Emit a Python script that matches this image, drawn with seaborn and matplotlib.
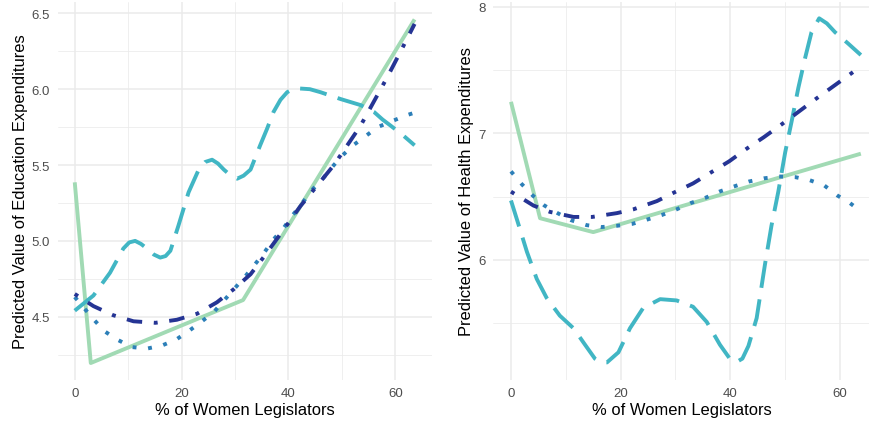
import numpy as np
import pandas as pd
import matplotlib
matplotlib.use("Agg")
import matplotlib.pyplot as plt
import seaborn as sns

# ---------------- data ----------------
# Education panel
edu_solid_x = [0, 3.0, 31.5, 63.6]
edu_solid_y = [5.386, 4.195, 4.61, 6.46]

edu_dash_x = [0, 3.5, 6.6, 9.1, 10.2, 11.3, 12.4, 13.5, 14.8, 16.0, 17.0, 17.9, 19.4, 21.3,
              23.2, 24.4, 25.7, 26.8, 27.9, 29.2, 30.4, 31.6, 32.9, 34.7, 36.0, 37.2,
              38.5, 39.75, 40.8, 41.9, 44.0, 46.0, 49.75, 53.5, 56.0, 57.6, 59.1, 61.3, 63.6]
edu_dash_y = [4.54, 4.64, 4.79, 4.95, 4.99, 5.00, 4.98, 4.95, 4.91, 4.89, 4.90, 4.935, 5.10, 5.32,
              5.47, 5.52, 5.535, 5.51, 5.47, 5.43, 5.41, 5.43, 5.47, 5.63, 5.74, 5.85,
              5.93, 5.98, 6.00, 6.005, 6.0, 5.98, 5.935, 5.895, 5.85, 5.80, 5.76, 5.70, 5.63]

edu_dot_x = [0, 1.75, 3.6, 5.55, 7.9, 10.7, 13.5, 16.3, 19.0, 21.5, 23.8, 26.0, 28.0, 30.0,
             32.0, 33.6, 35.4, 37.2, 39.0, 40.8, 42.6, 44.25, 46.2, 48.0, 50.0, 52.1, 54.4,
             56.7, 59.4, 62.25, 63.6]
edu_dot_y = [4.63, 4.557, 4.48, 4.405, 4.35, 4.30, 4.29, 4.31, 4.35, 4.41, 4.47, 4.53, 4.61, 4.69,
             4.77, 4.84, 4.92, 5.01, 5.08, 5.17, 5.25, 5.33, 5.40, 5.48, 5.56, 5.63, 5.69,
             5.75, 5.79, 5.83, 5.845]

edu_dotdash_x = [0, 3.5, 7.2, 11.0, 15.1, 19.1, 22.9, 26.6, 29.7, 32.9, 35.5, 38.5, 42.25,
                 45.5, 48.5, 51.0, 53.5, 56.0, 58.5, 61.0, 63.6]
edu_dotdash_y = [4.65, 4.57, 4.51, 4.47, 4.46, 4.48, 4.52, 4.595, 4.68, 4.78, 4.90, 5.045, 5.23,
                 5.37, 5.50, 5.63, 5.76, 5.92, 6.08, 6.25, 6.43]

# Health panel
hea_solid_x = [0, 5.3, 15.0, 63.8]
hea_solid_y = [7.25, 6.33, 6.22, 6.84]

hea_dash_x = [0, 1.3, 2.9, 4.7, 6.5, 8.9, 11.4, 13.5, 15.3, 16.4, 17.5, 19.6, 21.7, 24.1, 27.2,
              30.2, 33.2, 35.7, 38.1, 39.9, 41.0, 42.2, 43.3, 44.8, 46.3, 47.5, 48.75, 50.0,
              51.2, 52.4, 53.6, 54.8, 56.2, 57.6, 59.1, 61.5, 63.8]
hea_dash_y = [6.47, 6.29, 6.065, 5.85, 5.70, 5.56, 5.46, 5.33, 5.22, 5.19, 5.19, 5.27, 5.46, 5.62, 5.69,
              5.68, 5.63, 5.51, 5.33, 5.22, 5.19, 5.22, 5.32, 5.54, 5.96, 6.27, 6.54, 6.85,
              7.10, 7.36, 7.59, 7.80, 7.91, 7.87, 7.80, 7.71, 7.62]

hea_dot_x = [0, 1.95, 3.95, 6.1, 8.5, 10.9, 13.8, 16.5, 19.3, 22.1, 24.9, 27.5, 30.2, 32.8,
             35.4, 38.0, 40.6, 43.4, 46.1, 48.9, 51.8, 54.5, 57.1, 59.5, 61.8, 63.8]
hea_dot_y = [6.70, 6.60, 6.51, 6.43, 6.37, 6.315, 6.275, 6.26, 6.27, 6.285, 6.32, 6.355, 6.40, 6.45,
             6.49, 6.54, 6.58, 6.62, 6.645, 6.66, 6.655, 6.63, 6.59, 6.51, 6.45, 6.385]

hea_dotdash_x = [0, 4.1, 7.1, 11.4, 14.8, 19.3, 22.3, 26.6, 29.6, 33.2, 36.4, 39.8, 43.0, 46.1,
                 49.3, 52.4, 55.5, 58.7, 61.9, 63.8]
hea_dotdash_y = [6.54, 6.43, 6.38, 6.34, 6.34, 6.37, 6.40, 6.465, 6.53, 6.605, 6.69, 6.78, 6.88, 6.97,
                 7.07, 7.17, 7.27, 7.37, 7.47, 7.53]

series_names = ["solid", "longdash", "dotted", "dotdash"]

x_ticks = [0, 20, 40, 60]
x_tick_labels = ["0", "20", "40", "60"]
edu_y_ticks = [4.5, 5.0, 5.5, 6.0, 6.5]
edu_y_tick_labels = ["4.5", "5.0", "5.5", "6.0", "6.5"]
hea_y_ticks = [6, 7, 8]
hea_y_tick_labels = ["6", "7", "8"]

x_title = "% of Women Legislators"
edu_y_title = "Predicted Value of Education Expenditures"
hea_y_title = "Predicted Value of Health Expenditures"

# ---------------- styling ----------------
palette = {"solid": "#a1dab4", "longdash": "#41b6c4", "dotted": "#2c7fb8", "dotdash": "#253494"}
dashes = {"solid": "", "longdash": (7, 3), "dotted": (1, 3), "dotdash": (1, 3, 4, 3)}


def build(xs, ys):
    frames = []
    for name, x, y in zip(series_names, xs, ys):
        frames.append(pd.DataFrame({"x": x, "y": y, "series": name}))
    return pd.concat(frames, ignore_index=True)


edu_df = build([edu_solid_x, edu_dash_x, edu_dot_x, edu_dotdash_x],
               [edu_solid_y, edu_dash_y, edu_dot_y, edu_dotdash_y])
hea_df = build([hea_solid_x, hea_dash_x, hea_dot_x, hea_dotdash_x],
               [hea_solid_y, hea_dash_y, hea_dot_y, hea_dotdash_y])

sns.set_theme(style="white")
plt.rcParams["font.family"] = ["Liberation Sans", "DejaVu Sans"]

fig = plt.figure(figsize=(8.7, 4.27), dpi=100)
ax1 = fig.add_axes([57.7 / 870, 46 / 427, 374 / 870, 378.5 / 427])
ax2 = fig.add_axes([493 / 870, 46 / 427, 377 / 870, 378.5 / 427])


def draw(ax, df, yticks, ylabels, ytitle, xlim, ylim, yminor):
    sns.lineplot(data=df, x="x", y="y", hue="series", style="series",
                 palette=palette, dashes=dashes, hue_order=series_names,
                 style_order=series_names, estimator=None, sort=True,
                 linewidth=2.8, legend=False, ax=ax)
    for ln in ax.get_lines():
        ln.set_dash_capstyle("butt")
        ln.set_solid_capstyle("butt")
    ax.set_xlim(*xlim)
    ax.set_ylim(*ylim)
    ax.set_xticks(x_ticks)
    ax.set_xticklabels(x_tick_labels)
    ax.set_xticks([10, 30, 50], minor=True)
    ax.set_yticks(yticks)
    ax.set_yticklabels(ylabels)
    ax.set_yticks(yminor, minor=True)
    ax.grid(which="major", color="#ebebeb", linewidth=1.1)
    ax.grid(which="minor", color="#ebebeb", linewidth=0.55)
    ax.set_axisbelow(True)
    for s in ax.spines.values():
        s.set_visible(False)
    ax.tick_params(which="both", length=0)
    ax.tick_params(axis="x", pad=5.0, labelsize=9.5, labelcolor="#4d4d4d")
    ax.tick_params(axis="y", pad=5.5, labelsize=9.5, labelcolor="#4d4d4d")
    ax.set_xlabel(x_title, fontsize=11.9, color="black", labelpad=2.0)
    ax.set_ylabel(ytitle, fontsize=11.9, color="black", labelpad=3.0)
    ax.set_facecolor("white")


draw(ax1, edu_df, edu_y_ticks, edu_y_tick_labels, edu_y_title,
     (-3.19, 66.8), (4.083, 6.578), [4.25, 4.75, 5.25, 5.75, 6.25])
draw(ax2, hea_df, hea_y_ticks, hea_y_tick_labels, hea_y_title,
     (-3.28, 65.47), (5.051, 8.043), [5.5, 6.5, 7.5])

fig.savefig("out.png", dpi=100, facecolor="white")
